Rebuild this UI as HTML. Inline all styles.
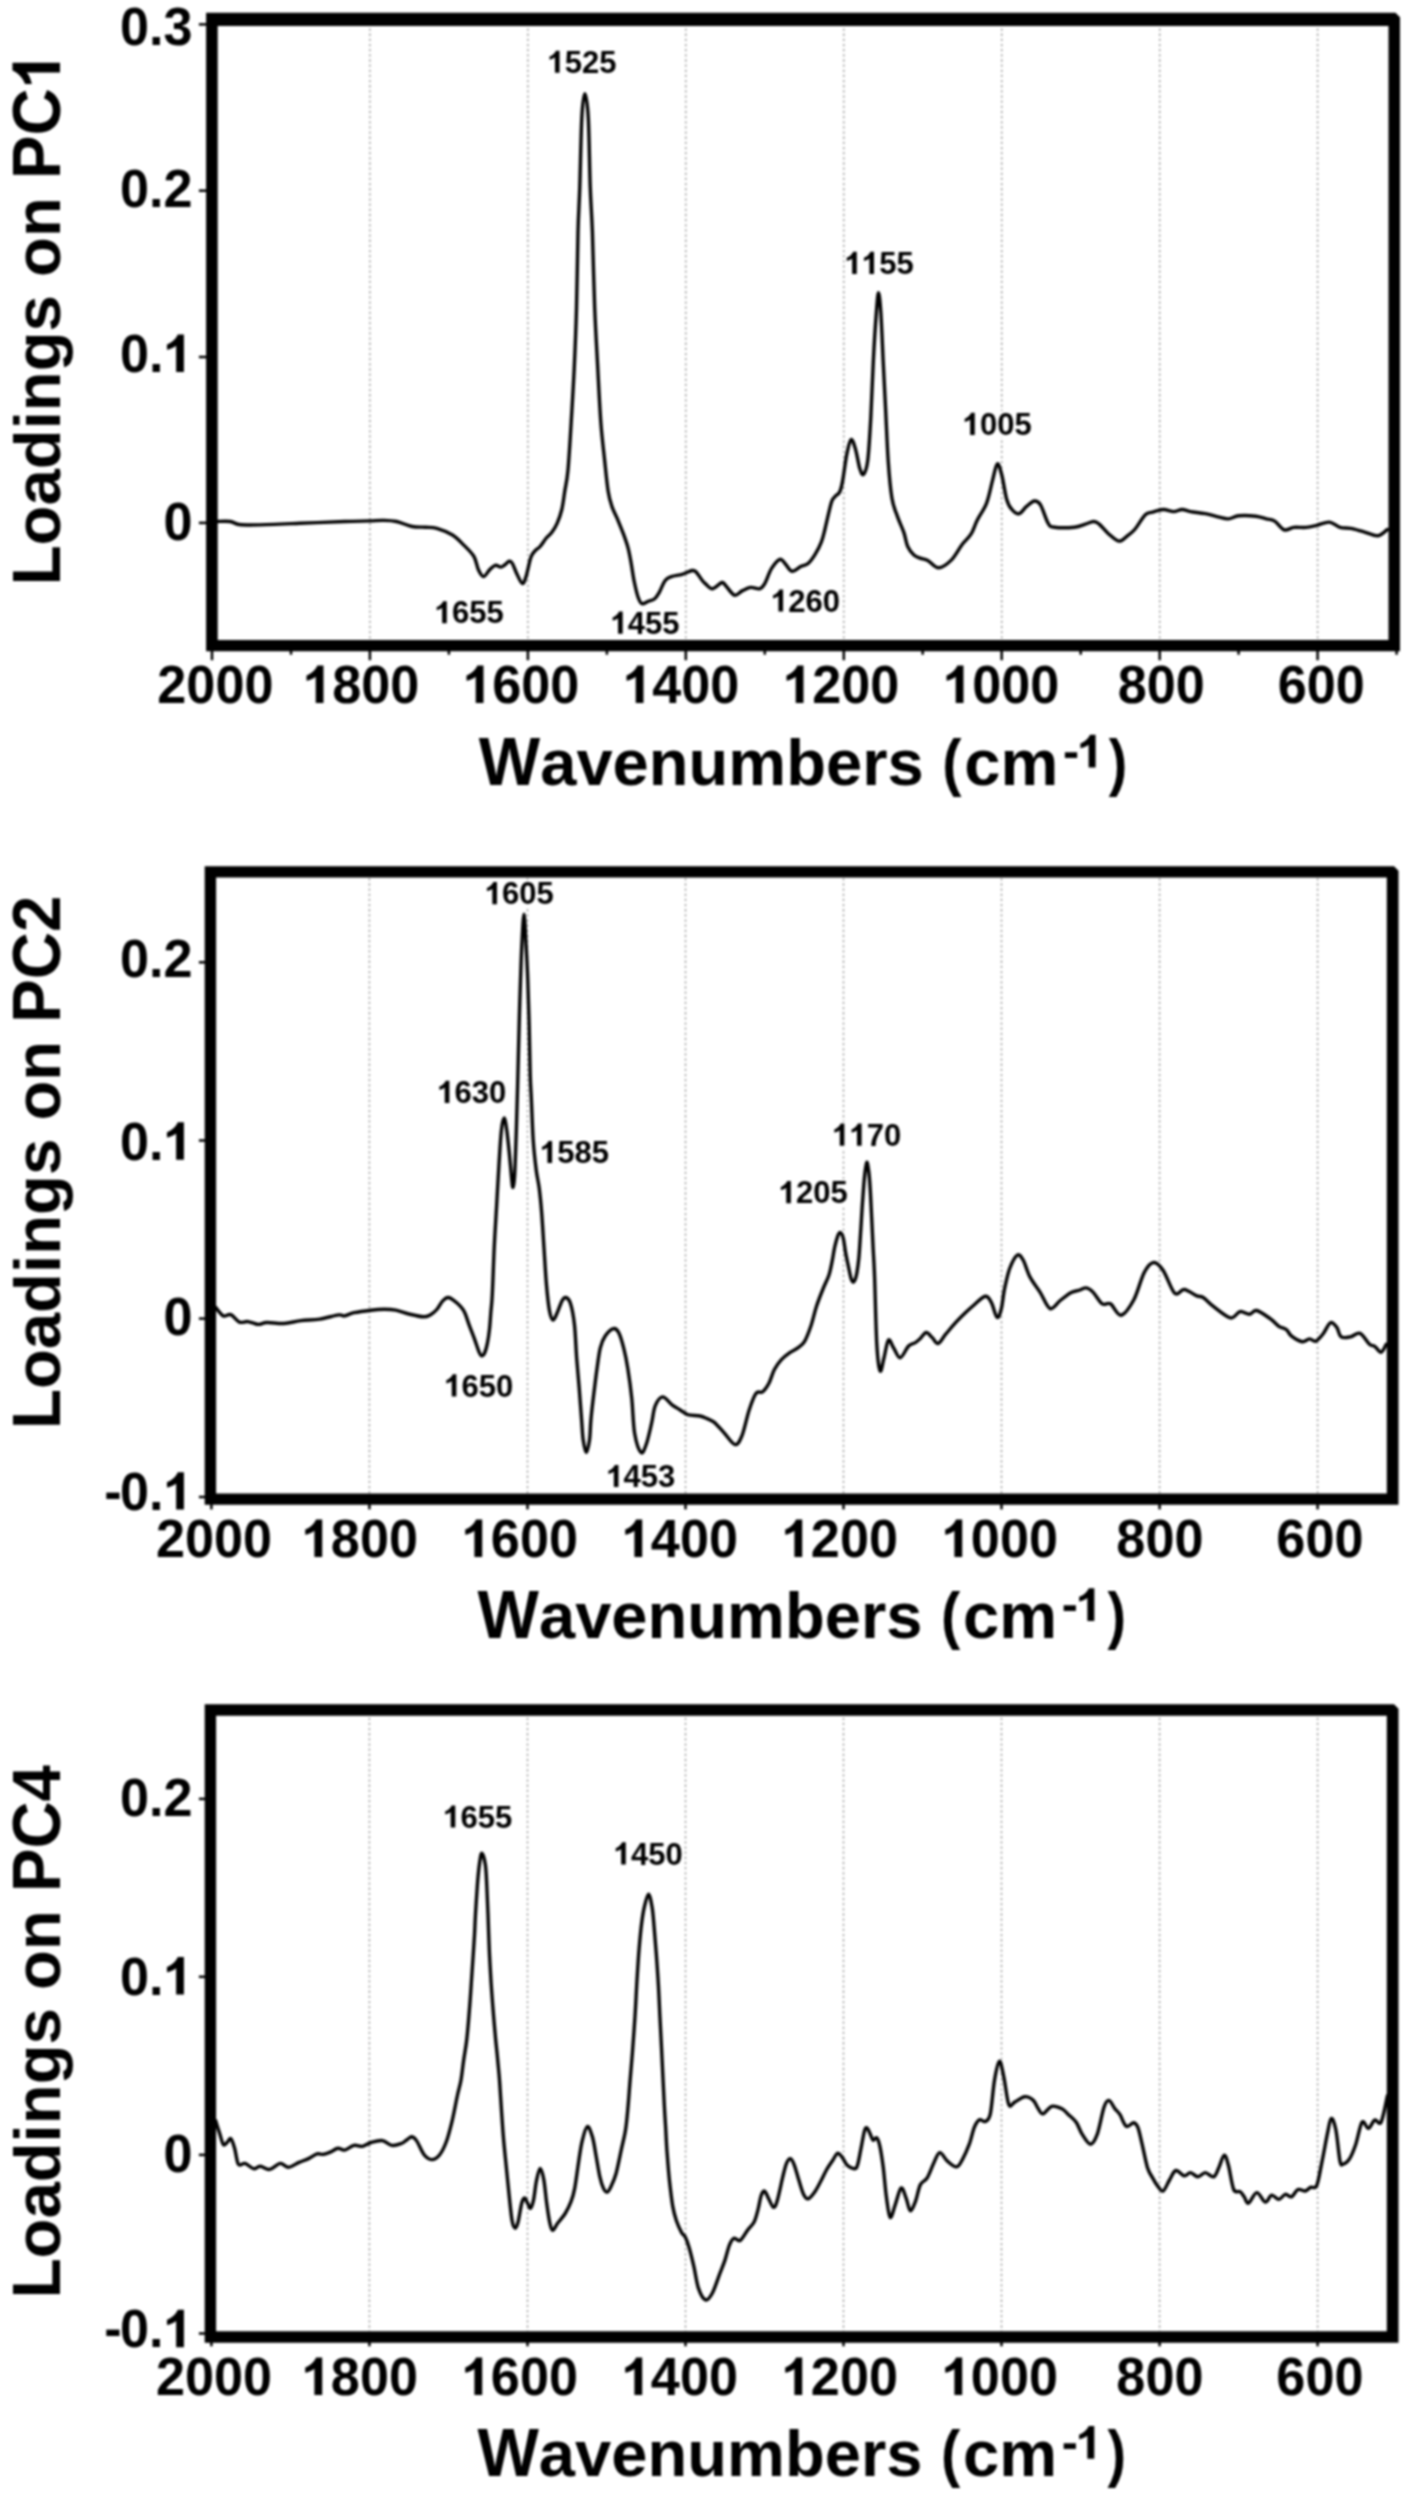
<!DOCTYPE html>
<html><head><meta charset="utf-8"><style>
html,body{margin:0;padding:0;background:#fff;overflow:hidden;}
svg{display:block;will-change:transform;filter:blur(0.8px);}
text{font-family:"Liberation Sans",sans-serif;font-weight:bold;fill:#000;}
</style></head><body>
<svg width="1425" height="2500" viewBox="0 0 1425 2500">
<rect width="1425" height="2500" fill="#fff"/>
<line x1="369.9" y1="26.0" x2="369.9" y2="640.0" stroke="#9c9c9c" stroke-width="1.4" stroke-dasharray="2.3 2.85" stroke-dashoffset="2.70"/>
<line x1="527.9" y1="26.0" x2="527.9" y2="640.0" stroke="#9c9c9c" stroke-width="1.4" stroke-dasharray="2.3 2.85" stroke-dashoffset="2.70"/>
<line x1="685.8" y1="26.0" x2="685.8" y2="640.0" stroke="#9c9c9c" stroke-width="1.4" stroke-dasharray="2.3 2.85" stroke-dashoffset="2.70"/>
<line x1="843.8" y1="26.0" x2="843.8" y2="640.0" stroke="#9c9c9c" stroke-width="1.4" stroke-dasharray="2.3 2.85" stroke-dashoffset="2.70"/>
<line x1="1001.7" y1="26.0" x2="1001.7" y2="640.0" stroke="#9c9c9c" stroke-width="1.4" stroke-dasharray="2.3 2.85" stroke-dashoffset="2.70"/>
<line x1="1159.7" y1="26.0" x2="1159.7" y2="640.0" stroke="#9c9c9c" stroke-width="1.4" stroke-dasharray="2.3 2.85" stroke-dashoffset="2.70"/>
<line x1="1317.6" y1="26.0" x2="1317.6" y2="640.0" stroke="#9c9c9c" stroke-width="1.4" stroke-dasharray="2.3 2.85" stroke-dashoffset="2.70"/>
<path d="M216.7,521.5 C218.9,521.5 226.4,521.0 230.2,521.5 C233.9,522.0 234.7,523.9 239.2,524.5 C243.7,525.1 247.1,525.1 257.2,524.9 C267.3,524.7 285.2,523.9 299.8,523.3 C314.4,522.7 333.1,521.9 344.7,521.5 C356.3,521.1 363.0,521.1 369.4,520.9 C375.8,520.7 378.4,520.3 382.9,520.4 C387.4,520.5 391.5,520.5 396.4,521.5 C401.3,522.5 407.2,525.5 412.1,526.5 C417.0,527.5 421.5,526.9 425.6,527.2 C429.7,527.5 432.3,527.0 436.8,528.3 C441.3,529.6 448.0,532.2 452.5,535.0 C457.0,537.8 460.2,541.5 463.8,545.1 C467.4,548.7 471.5,552.3 473.9,556.4 C476.3,560.5 476.8,566.4 478.4,569.8 C480.0,573.2 481.6,576.6 483.5,576.6 C485.4,576.6 487.7,571.7 489.6,569.8 C491.6,567.9 493.3,565.8 495.2,565.3 C497.1,564.8 499.2,567.1 500.8,567.1 C502.4,567.1 503.2,566.0 504.6,565.0 C506.0,564.0 508.0,561.5 509.3,561.2 C510.6,561.0 511.1,561.3 512.4,563.5 C513.7,565.7 515.3,570.9 517.0,574.3 C518.7,577.6 520.9,583.3 522.4,583.6 C523.9,583.9 524.8,580.3 526.2,575.9 C527.6,571.5 529.4,561.5 530.9,557.3 C532.4,553.0 534.0,552.2 535.5,550.4 C537.0,548.6 538.3,548.6 540.1,546.5 C541.9,544.4 544.4,540.3 546.3,538.0 C548.2,535.7 549.9,535.0 551.7,532.6 C553.5,530.2 555.4,527.2 557.1,523.4 C558.8,519.5 560.5,514.9 561.8,509.5 C563.1,504.1 563.8,497.4 564.8,491.0 C565.8,484.6 566.8,482.4 567.9,470.9 C569.0,459.4 570.2,439.0 571.2,422.0 C572.2,405.0 573.3,387.8 574.2,368.8 C575.1,349.8 575.9,330.8 576.5,308.0 C577.1,285.2 577.5,252.3 578.0,232.0 C578.5,211.7 579.2,205.4 579.8,186.4 C580.4,167.4 581.0,133.4 581.8,118.0 C582.6,102.5 583.7,93.7 584.8,93.7 C585.9,93.7 587.4,102.5 588.3,118.0 C589.2,133.4 589.5,167.4 590.2,186.4 C590.9,205.4 591.6,211.7 592.4,232.0 C593.1,252.3 593.8,285.2 594.7,308.0 C595.6,330.8 596.8,349.8 597.8,368.8 C598.8,387.8 599.7,406.8 600.8,422.0 C601.9,437.2 603.4,448.5 604.6,460.0 C605.8,471.5 606.9,483.3 608.1,491.0 C609.3,498.7 610.4,501.8 611.9,506.4 C613.4,511.0 615.4,514.1 617.3,518.7 C619.2,523.3 621.7,529.3 623.5,534.2 C625.3,539.1 626.8,543.2 628.1,548.1 C629.4,553.0 630.2,557.9 631.2,563.5 C632.2,569.1 633.1,576.3 634.3,582.0 C635.5,587.7 636.9,593.9 638.2,597.5 C639.5,601.1 640.3,603.1 642.0,603.7 C643.7,604.3 646.1,602.1 648.2,601.3 C650.3,600.5 652.6,600.4 654.4,599.0 C656.2,597.6 657.2,596.0 659.0,592.9 C660.8,589.8 663.1,583.2 665.2,580.5 C667.3,577.8 668.6,577.6 671.4,576.6 C674.2,575.6 678.7,575.3 682.2,574.3 C685.7,573.3 689.9,570.9 692.2,570.5 C694.5,570.1 694.4,570.3 696.1,572.0 C697.8,573.7 700.7,578.5 702.3,580.5 C703.9,582.5 703.9,582.5 705.6,583.9 C707.3,585.3 709.9,589.0 712.6,588.8 C715.3,588.6 719.6,583.0 721.8,582.5 C724.0,582.0 723.9,583.9 726.0,586.0 C728.1,588.1 731.7,594.3 734.4,595.1 C737.1,595.9 739.4,592.2 742.1,590.9 C744.8,589.6 747.6,587.8 750.5,587.4 C753.4,587.0 757.2,589.4 759.6,588.8 C762.0,588.2 762.6,587.3 764.6,583.9 C766.6,580.5 769.0,572.5 771.6,568.4 C774.2,564.3 777.7,560.0 780.0,559.3 C782.3,558.6 783.6,562.2 785.6,564.2 C787.6,566.2 789.3,570.9 791.9,571.2 C794.5,571.6 798.4,567.6 801.1,566.3 C803.8,565.0 805.8,565.5 808.1,563.5 C810.4,561.5 812.9,558.0 815.1,554.4 C817.3,550.8 819.8,546.0 821.4,541.8 C823.0,537.6 823.4,535.5 825.0,529.0 C826.6,522.5 829.6,508.4 831.2,503.0 C832.9,497.6 833.5,498.6 834.9,496.7 C836.3,494.8 838.5,494.7 839.8,491.8 C841.1,488.9 841.8,485.6 842.9,479.4 C844.0,473.2 845.4,461.2 846.7,454.6 C848.1,448.0 849.6,440.7 851.0,439.7 C852.4,438.7 853.8,443.6 855.3,448.4 C856.8,453.1 858.4,463.9 859.7,468.2 C861.1,472.5 862.1,475.6 863.4,474.4 C864.7,473.2 866.5,470.3 867.7,460.8 C868.9,451.3 869.9,433.9 870.8,417.4 C871.7,400.9 872.4,379.2 873.3,361.6 C874.2,344.0 875.5,323.5 876.4,312.0 C877.3,300.5 877.8,292.8 878.5,292.8 C879.2,292.8 880.0,300.5 880.8,312.0 C881.6,323.5 882.4,345.1 883.2,361.6 C884.0,378.1 884.9,394.7 885.7,411.2 C886.5,427.7 887.2,446.3 888.2,460.8 C889.2,475.3 890.4,488.7 891.9,498.0 C893.4,507.3 895.5,510.8 897.5,516.6 C899.5,522.4 902.2,527.6 903.9,532.6 C905.6,537.6 906.0,542.8 907.7,546.5 C909.4,550.2 911.8,553.1 913.9,555.0 C916.0,556.9 917.8,557.2 920.1,558.1 C922.4,559.0 924.7,558.8 927.8,560.4 C930.9,562.0 934.7,567.8 938.6,567.8 C942.5,567.8 947.1,564.2 951.0,560.4 C954.9,556.6 958.5,549.4 961.8,545.0 C965.1,540.6 968.4,538.3 971.0,534.2 C973.6,530.1 974.6,525.4 977.2,520.3 C979.8,515.1 983.9,510.0 986.5,503.3 C989.1,496.6 990.8,486.7 992.6,480.1 C994.4,473.5 995.8,464.7 997.3,463.9 C998.8,463.1 1000.4,469.7 1001.9,475.5 C1003.4,481.3 1005.0,493.2 1006.5,498.7 C1008.0,504.2 1009.1,506.2 1011.2,508.7 C1013.3,511.2 1016.3,514.2 1018.9,513.8 C1021.5,513.4 1024.0,508.5 1026.6,506.4 C1029.2,504.3 1032.0,501.3 1034.3,501.0 C1036.6,500.7 1038.2,501.1 1040.5,504.8 C1042.8,508.5 1045.9,519.7 1048.2,523.4 C1050.5,527.1 1050.0,526.6 1054.4,527.2 C1058.8,527.8 1069.3,527.7 1074.5,527.2 C1079.7,526.7 1082.1,525.1 1085.3,524.1 C1088.5,523.1 1091.5,521.5 1093.8,521.5 C1096.1,521.5 1096.8,522.1 1099.2,524.1 C1101.6,526.1 1105.1,530.9 1108.4,533.7 C1111.7,536.5 1115.7,540.8 1118.9,541.1 C1122.1,541.5 1124.8,537.7 1127.4,535.8 C1130.0,533.9 1131.7,533.0 1134.7,529.5 C1137.7,526.0 1142.3,517.6 1145.3,514.7 C1148.3,511.8 1149.6,513.1 1152.6,512.2 C1155.6,511.3 1159.7,509.6 1163.2,509.5 C1166.7,509.4 1170.6,511.6 1173.7,511.6 C1176.8,511.6 1179.3,509.5 1182.1,509.5 C1184.9,509.5 1186.6,510.9 1190.5,511.6 C1194.4,512.3 1200.7,512.8 1205.3,513.7 C1209.9,514.6 1214.1,515.9 1217.9,516.8 C1221.8,517.7 1224.9,519.1 1228.4,518.9 C1231.9,518.7 1234.3,516.2 1238.9,515.8 C1243.5,515.3 1251.2,515.7 1255.8,516.2 C1260.4,516.7 1263.1,518.1 1266.3,518.9 C1269.5,519.7 1271.7,519.3 1274.7,521.1 C1277.7,522.9 1281.0,528.9 1284.2,529.9 C1287.4,530.9 1290.0,527.8 1293.7,527.4 C1297.4,527.0 1302.5,527.8 1306.3,527.4 C1310.1,527.0 1312.9,526.2 1316.8,525.3 C1320.7,524.4 1325.6,521.8 1329.5,522.1 C1333.4,522.5 1336.5,526.4 1340.0,527.4 C1343.5,528.4 1346.6,527.7 1350.5,528.4 C1354.4,529.1 1358.6,530.4 1363.2,531.6 C1367.8,532.8 1373.9,536.1 1377.9,535.8 C1381.9,535.4 1385.8,530.5 1387.4,529.5" fill="none" stroke="#000" stroke-width="3.4" stroke-linejoin="round" stroke-linecap="round"/>
<path d="M206.10,12.80 H1395.50 L1400.00,17.30 V651.20 H206.10 Z M217.70,26.00 V640.00 H1388.50 V26.00 Z" fill="#000" fill-rule="evenodd"/>
<line x1="212.0" y1="649.2" x2="212.0" y2="660.2" stroke="#000" stroke-width="2.5"/>
<line x1="291.0" y1="649.2" x2="291.0" y2="654.7" stroke="#000" stroke-width="2.5"/>
<line x1="369.9" y1="649.2" x2="369.9" y2="660.2" stroke="#000" stroke-width="2.5"/>
<line x1="448.9" y1="649.2" x2="448.9" y2="654.7" stroke="#000" stroke-width="2.5"/>
<line x1="527.9" y1="649.2" x2="527.9" y2="660.2" stroke="#000" stroke-width="2.5"/>
<line x1="606.9" y1="649.2" x2="606.9" y2="654.7" stroke="#000" stroke-width="2.5"/>
<line x1="685.8" y1="649.2" x2="685.8" y2="660.2" stroke="#000" stroke-width="2.5"/>
<line x1="764.8" y1="649.2" x2="764.8" y2="654.7" stroke="#000" stroke-width="2.5"/>
<line x1="843.8" y1="649.2" x2="843.8" y2="660.2" stroke="#000" stroke-width="2.5"/>
<line x1="922.7" y1="649.2" x2="922.7" y2="654.7" stroke="#000" stroke-width="2.5"/>
<line x1="1001.7" y1="649.2" x2="1001.7" y2="660.2" stroke="#000" stroke-width="2.5"/>
<line x1="1080.7" y1="649.2" x2="1080.7" y2="654.7" stroke="#000" stroke-width="2.5"/>
<line x1="1159.7" y1="649.2" x2="1159.7" y2="660.2" stroke="#000" stroke-width="2.5"/>
<line x1="1238.6" y1="649.2" x2="1238.6" y2="654.7" stroke="#000" stroke-width="2.5"/>
<line x1="1317.6" y1="649.2" x2="1317.6" y2="660.2" stroke="#000" stroke-width="2.5"/>
<line x1="1396.6" y1="649.2" x2="1396.6" y2="654.7" stroke="#000" stroke-width="2.5"/>
<line x1="198.9" y1="24.4" x2="208.1" y2="24.4" stroke="#000" stroke-width="2.5"/>
<line x1="198.9" y1="190.7" x2="208.1" y2="190.7" stroke="#000" stroke-width="2.5"/>
<line x1="198.9" y1="357.0" x2="208.1" y2="357.0" stroke="#000" stroke-width="2.5"/>
<line x1="198.9" y1="522.9" x2="208.1" y2="522.9" stroke="#000" stroke-width="2.5"/>
<g transform="translate(157.34,703.00) scale(1.0000,1.0250)"><text x="0.00 29.03 58.06 87.09" y="0" font-size="52.2">2000</text></g>
<g transform="translate(303.14,703.00) scale(1.0000,1.0250)"><text x="29.03 58.06 87.09" y="0" font-size="52.2">800</text><path d="M0.39,0 L0.241,0 L0.241,0.49 C0.19,0.447 0.13,0.428 0.065,0.415 L0.065,0.515 C0.155,0.545 0.235,0.615 0.272,0.70 L0.39,0.70 Z" transform="translate(0.00,0) scale(52.2,-52.2)"/></g>
<g transform="translate(463.14,703.00) scale(1.0000,1.0250)"><text x="29.03 58.06 87.09" y="0" font-size="52.2">600</text><path d="M0.39,0 L0.241,0 L0.241,0.49 C0.19,0.447 0.13,0.428 0.065,0.415 L0.065,0.515 C0.155,0.545 0.235,0.615 0.272,0.70 L0.39,0.70 Z" transform="translate(0.00,0) scale(52.2,-52.2)"/></g>
<g transform="translate(623.14,703.00) scale(1.0000,1.0250)"><text x="29.03 58.06 87.09" y="0" font-size="52.2">400</text><path d="M0.39,0 L0.241,0 L0.241,0.49 C0.19,0.447 0.13,0.428 0.065,0.415 L0.065,0.515 C0.155,0.545 0.235,0.615 0.272,0.70 L0.39,0.70 Z" transform="translate(0.00,0) scale(52.2,-52.2)"/></g>
<g transform="translate(783.14,703.00) scale(1.0000,1.0250)"><text x="29.03 58.06 87.09" y="0" font-size="52.2">200</text><path d="M0.39,0 L0.241,0 L0.241,0.49 C0.19,0.447 0.13,0.428 0.065,0.415 L0.065,0.515 C0.155,0.545 0.235,0.615 0.272,0.70 L0.39,0.70 Z" transform="translate(0.00,0) scale(52.2,-52.2)"/></g>
<g transform="translate(943.14,703.00) scale(1.0000,1.0250)"><text x="29.03 58.06 87.09" y="0" font-size="52.2">000</text><path d="M0.39,0 L0.241,0 L0.241,0.49 C0.19,0.447 0.13,0.428 0.065,0.415 L0.065,0.515 C0.155,0.545 0.235,0.615 0.272,0.70 L0.39,0.70 Z" transform="translate(0.00,0) scale(52.2,-52.2)"/></g>
<g transform="translate(1117.65,703.00) scale(1.0000,1.0250)"><text x="0.00 29.03 58.06" y="0" font-size="52.2">800</text></g>
<g transform="translate(1277.65,703.00) scale(1.0000,1.0250)"><text x="0.00 29.03 58.06" y="0" font-size="52.2">600</text></g>
<g transform="translate(120.03,45.40) scale(1.0000,1.0250)"><text x="0.00 29.03 43.53" y="0" font-size="52.2">0.3</text></g>
<g transform="translate(120.03,207.20) scale(1.0000,1.0250)"><text x="0.00 29.03 43.53" y="0" font-size="52.2">0.2</text></g>
<g transform="translate(120.03,372.00) scale(1.0000,1.0250)"><text x="0.00 29.03" y="0" font-size="52.2">0.</text><path d="M0.39,0 L0.241,0 L0.241,0.49 C0.19,0.447 0.13,0.428 0.065,0.415 L0.065,0.515 C0.155,0.545 0.235,0.615 0.272,0.70 L0.39,0.70 Z" transform="translate(43.53,0) scale(52.2,-52.2)"/></g>
<g transform="translate(163.57,539.80) scale(1.0000,1.0250)"><text x="0.00" y="0" font-size="52.2">0</text></g>
<g transform="translate(478.74,785.00) scale(1.0000,1.0450)"><text x="0.00" y="0" font-size="65.1">W</text><g transform="scale(1,0.945)"><text x="61.44 97.65 133.86 170.06 209.83 249.59 307.48 347.24 383.45 408.78" y="0" font-size="65.1">avenumbers</text></g></g>
<g transform="translate(942.22,783.98) scale(0.8872,0.9789)"><text x="0.00" y="0" font-size="65.1">(</text></g>
<g transform="translate(964.26,785.00) scale(1.0000,1.0450)"><g transform="scale(1,0.945)"><text x="0.00 36.21" y="0" font-size="65.1">cm</text></g></g>
<g transform="translate(1063.11,767.75) scale(1.0600,1.0469)"><text x="0.00" y="0" font-size="45.7">-</text></g>
<g transform="translate(1077.36,767.60) scale(1.0234,1.0253)"><path d="M0.39,0 L0.241,0 L0.241,0.49 C0.19,0.447 0.13,0.428 0.065,0.415 L0.065,0.515 C0.155,0.545 0.235,0.615 0.272,0.70 L0.39,0.70 Z" transform="translate(0.00,0) scale(45.7,-45.7)"/></g>
<g transform="translate(1108.85,783.93) scale(0.8545,0.9673)"><text x="0.00" y="0" font-size="65.1">)</text></g>
<g transform="translate(60.00,585.27) rotate(-90) scale(1.0000,1.0400)"><text x="0.00 406.28 449.83" y="0" font-size="65.3">LPC</text><g transform="scale(1,0.945)"><text x="39.89 79.78 116.09 155.98 174.12 214.01 253.90 308.36 348.25" y="0" font-size="65.3">oadingson</text></g><path d="M0.39,0 L0.241,0 L0.241,0.49 C0.19,0.447 0.13,0.428 0.065,0.415 L0.065,0.515 C0.155,0.545 0.235,0.615 0.272,0.70 L0.39,0.70 Z" transform="translate(496.99,0) scale(65.3,-65.3)"/></g>
<rect x="548.0" y="48.7" width="69.1" height="26.4" fill="#fff"/>
<g transform="translate(547.49,72.80) scale(1.0000,1.0200)"><text x="17.24 34.48 51.72" y="0" font-size="31.0">525</text><path d="M0.39,0 L0.241,0 L0.241,0.49 C0.19,0.447 0.13,0.428 0.065,0.415 L0.065,0.515 C0.155,0.545 0.235,0.615 0.272,0.70 L0.39,0.70 Z" transform="translate(0.00,0) scale(31.0,-31.0)"/></g>
<rect x="845.2" y="249.9" width="69.1" height="26.4" fill="#fff"/>
<g transform="translate(844.69,274.00) scale(1.0000,1.0200)"><text x="34.48 51.72" y="0" font-size="31.0">55</text><path d="M0.39,0 L0.241,0 L0.241,0.49 C0.19,0.447 0.13,0.428 0.065,0.415 L0.065,0.515 C0.155,0.545 0.235,0.615 0.272,0.70 L0.39,0.70 Z" transform="translate(0.00,0) scale(31.0,-31.0)"/><path d="M0.39,0 L0.241,0 L0.241,0.49 C0.19,0.447 0.13,0.428 0.065,0.415 L0.065,0.515 C0.155,0.545 0.235,0.615 0.272,0.70 L0.39,0.70 Z" transform="translate(17.24,0) scale(31.0,-31.0)"/></g>
<rect x="963.2" y="410.9" width="69.1" height="26.4" fill="#fff"/>
<g transform="translate(962.69,435.00) scale(1.0000,1.0200)"><text x="17.24 34.48 51.72" y="0" font-size="31.0">005</text><path d="M0.39,0 L0.241,0 L0.241,0.49 C0.19,0.447 0.13,0.428 0.065,0.415 L0.065,0.515 C0.155,0.545 0.235,0.615 0.272,0.70 L0.39,0.70 Z" transform="translate(0.00,0) scale(31.0,-31.0)"/></g>
<rect x="435.2" y="599.2" width="69.1" height="26.4" fill="#fff"/>
<g transform="translate(434.69,623.30) scale(1.0000,1.0200)"><text x="17.24 34.48 51.72" y="0" font-size="31.0">655</text><path d="M0.39,0 L0.241,0 L0.241,0.49 C0.19,0.447 0.13,0.428 0.065,0.415 L0.065,0.515 C0.155,0.545 0.235,0.615 0.272,0.70 L0.39,0.70 Z" transform="translate(0.00,0) scale(31.0,-31.0)"/></g>
<rect x="611.1" y="609.6" width="69.1" height="26.4" fill="#fff"/>
<g transform="translate(610.59,633.70) scale(1.0000,1.0200)"><text x="17.24 34.48 51.72" y="0" font-size="31.0">455</text><path d="M0.39,0 L0.241,0 L0.241,0.49 C0.19,0.447 0.13,0.428 0.065,0.415 L0.065,0.515 C0.155,0.545 0.235,0.615 0.272,0.70 L0.39,0.70 Z" transform="translate(0.00,0) scale(31.0,-31.0)"/></g>
<rect x="771.5" y="587.5" width="68.7" height="26.4" fill="#fff"/>
<g transform="translate(770.99,611.60) scale(1.0000,1.0200)"><text x="17.24 34.48 51.72" y="0" font-size="31.0">260</text><path d="M0.39,0 L0.241,0 L0.241,0.49 C0.19,0.447 0.13,0.428 0.065,0.415 L0.065,0.515 C0.155,0.545 0.235,0.615 0.272,0.70 L0.39,0.70 Z" transform="translate(0.00,0) scale(31.0,-31.0)"/></g>
<line x1="369.4" y1="877.5" x2="369.4" y2="1493.5" stroke="#9c9c9c" stroke-width="1.4" stroke-dasharray="2.3 2.85" stroke-dashoffset="4.45"/>
<line x1="527.5" y1="877.5" x2="527.5" y2="1493.5" stroke="#9c9c9c" stroke-width="1.4" stroke-dasharray="2.3 2.85" stroke-dashoffset="4.45"/>
<line x1="685.5" y1="877.5" x2="685.5" y2="1493.5" stroke="#9c9c9c" stroke-width="1.4" stroke-dasharray="2.3 2.85" stroke-dashoffset="4.45"/>
<line x1="843.5" y1="877.5" x2="843.5" y2="1493.5" stroke="#9c9c9c" stroke-width="1.4" stroke-dasharray="2.3 2.85" stroke-dashoffset="4.45"/>
<line x1="1001.5" y1="877.5" x2="1001.5" y2="1493.5" stroke="#9c9c9c" stroke-width="1.4" stroke-dasharray="2.3 2.85" stroke-dashoffset="4.45"/>
<line x1="1159.6" y1="877.5" x2="1159.6" y2="1493.5" stroke="#9c9c9c" stroke-width="1.4" stroke-dasharray="2.3 2.85" stroke-dashoffset="4.45"/>
<line x1="1317.6" y1="877.5" x2="1317.6" y2="1493.5" stroke="#9c9c9c" stroke-width="1.4" stroke-dasharray="2.3 2.85" stroke-dashoffset="4.45"/>
<path d="M215.7,1307.4 C217.0,1308.8 220.8,1314.7 223.3,1315.9 C225.8,1317.1 228.1,1313.6 230.8,1314.6 C233.5,1315.6 236.6,1320.9 239.4,1322.1 C242.2,1323.3 244.8,1321.2 247.9,1321.6 C251.1,1322.0 255.2,1324.2 258.3,1324.4 C261.4,1324.6 262.5,1322.7 266.8,1322.5 C271.1,1322.3 278.2,1323.8 283.9,1323.5 C289.6,1323.2 294.9,1321.3 300.9,1320.6 C306.9,1319.9 313.6,1320.0 319.9,1319.1 C326.2,1318.1 334.7,1315.4 338.8,1314.9 C342.9,1314.4 342.0,1316.3 344.5,1315.9 C347.0,1315.5 349.6,1313.7 354.0,1312.7 C358.4,1311.8 365.9,1310.8 371.0,1310.2 C376.1,1309.6 380.2,1309.3 384.3,1309.3 C388.4,1309.3 391.6,1309.4 395.7,1310.2 C399.8,1311.0 404.3,1312.9 408.9,1314.0 C413.5,1315.1 419.9,1316.7 423.5,1316.8 C427.1,1316.9 428.3,1315.9 430.5,1314.7 C432.7,1313.5 434.8,1311.8 436.8,1309.5 C438.8,1307.2 440.6,1303.1 442.5,1301.1 C444.4,1299.1 446.2,1297.6 448.1,1297.5 C450.0,1297.4 451.6,1298.9 453.7,1300.4 C455.8,1301.9 458.8,1304.6 460.7,1306.7 C462.6,1308.8 463.5,1310.0 464.9,1313.0 C466.3,1316.0 467.5,1320.5 469.1,1324.9 C470.7,1329.3 473.1,1335.1 474.7,1339.6 C476.3,1344.0 477.8,1348.9 478.9,1351.6 C480.0,1354.3 480.4,1355.6 481.4,1355.8 C482.3,1356.0 483.6,1355.1 484.6,1353.0 C485.6,1350.9 486.6,1347.2 487.4,1343.2 C488.2,1339.2 488.9,1334.4 489.5,1329.1 C490.1,1323.8 490.4,1317.4 490.9,1311.6 C491.4,1305.8 491.8,1304.6 492.3,1294.0 C492.9,1283.4 493.5,1262.7 494.2,1248.0 C494.9,1233.3 495.8,1220.0 496.6,1206.0 C497.4,1192.0 498.2,1176.6 499.0,1164.0 C499.8,1151.4 500.5,1138.1 501.4,1130.4 C502.2,1122.7 503.2,1117.9 504.1,1117.9 C505.0,1117.9 506.0,1124.7 506.8,1130.4 C507.6,1136.1 508.4,1144.0 509.2,1152.0 C510.0,1160.0 511.0,1172.5 511.6,1178.4 C512.2,1184.3 512.5,1187.8 513.0,1187.4 C513.5,1187.0 514.0,1185.9 514.6,1176.0 C515.2,1166.1 515.9,1143.0 516.4,1128.0 C516.9,1113.0 517.2,1099.0 517.6,1086.0 C518.0,1073.0 518.2,1061.8 518.5,1050.0 C518.8,1038.2 519.1,1026.6 519.4,1015.0 C519.7,1003.4 520.1,992.3 520.5,980.4 C520.9,968.5 521.3,954.6 521.9,943.6 C522.5,932.6 523.3,914.2 524.0,914.2 C524.7,914.2 525.4,932.6 526.0,943.6 C526.6,954.6 527.3,966.6 527.8,980.4 C528.3,994.2 528.8,1010.6 529.2,1026.4 C529.6,1042.2 529.8,1062.7 530.2,1075.0 C530.6,1087.3 530.9,1089.2 531.4,1100.0 C531.9,1110.8 532.4,1128.3 533.2,1140.0 C534.0,1151.7 535.2,1162.0 536.2,1170.0 C537.2,1178.0 538.3,1181.0 539.2,1188.0 C540.1,1195.0 540.8,1202.0 541.6,1212.0 C542.4,1222.0 543.2,1236.0 544.0,1248.0 C544.8,1260.0 545.5,1273.6 546.4,1284.0 C547.3,1294.4 548.3,1304.4 549.4,1310.4 C550.5,1316.4 551.7,1319.6 553.0,1320.0 C554.3,1320.4 555.7,1316.0 557.2,1312.8 C558.7,1309.6 560.6,1303.3 562.0,1300.8 C563.4,1298.2 564.4,1297.1 565.8,1297.5 C567.2,1297.9 568.9,1298.6 570.4,1303.2 C571.9,1307.8 573.5,1315.8 574.5,1325.0 C575.5,1334.2 575.9,1348.1 576.7,1358.6 C577.5,1369.1 578.4,1377.9 579.2,1388.1 C580.0,1398.3 580.9,1411.3 581.6,1420.0 C582.3,1428.7 582.4,1434.6 583.2,1440.0 C584.0,1445.4 585.2,1452.6 586.3,1452.6 C587.3,1452.6 588.7,1445.4 589.5,1440.0 C590.3,1434.6 590.2,1427.8 590.9,1420.0 C591.6,1412.2 592.8,1401.9 593.9,1393.0 C595.0,1384.1 596.2,1373.9 597.3,1366.4 C598.4,1358.9 599.0,1352.9 600.3,1347.8 C601.6,1342.7 603.0,1339.2 605.2,1336.0 C607.4,1332.8 611.2,1329.1 613.5,1328.6 C615.8,1328.1 617.2,1329.6 618.9,1333.0 C620.6,1336.4 622.4,1342.9 623.9,1348.8 C625.4,1354.7 626.5,1360.2 627.8,1368.4 C629.1,1376.6 630.6,1387.0 631.7,1397.9 C632.9,1408.8 633.1,1424.6 634.7,1433.7 C636.3,1442.8 639.2,1450.8 641.1,1452.6 C643.0,1454.3 644.5,1449.1 646.3,1444.2 C648.0,1439.3 650.1,1429.6 651.6,1423.2 C653.1,1416.8 653.4,1410.1 655.3,1405.7 C657.1,1401.3 659.9,1397.1 662.7,1396.9 C665.5,1396.8 669.1,1402.7 672.0,1404.8 C674.9,1406.9 677.2,1408.1 679.8,1409.7 C682.4,1411.3 684.3,1413.5 687.7,1414.6 C691.1,1415.6 696.8,1415.3 700.0,1416.0 C703.2,1416.7 704.7,1417.6 707.0,1418.6 C709.3,1419.6 711.2,1419.8 714.0,1422.1 C716.8,1424.4 720.4,1428.8 723.9,1432.6 C727.4,1436.3 732.1,1444.1 735.1,1444.6 C738.1,1445.1 739.8,1441.1 742.1,1435.4 C744.4,1429.7 746.8,1417.2 749.1,1410.2 C751.4,1403.2 753.9,1396.3 756.1,1393.3 C758.3,1390.2 760.4,1393.5 762.5,1391.9 C764.6,1390.3 766.8,1387.2 768.8,1383.5 C770.8,1379.8 772.3,1373.5 774.4,1369.5 C776.5,1365.5 778.8,1362.4 781.4,1359.6 C784.0,1356.8 787.0,1354.6 789.8,1352.6 C792.6,1350.6 795.7,1349.6 798.2,1347.7 C800.7,1345.8 802.5,1345.0 804.6,1341.4 C806.7,1337.8 808.9,1331.8 810.9,1326.0 C812.9,1320.2 814.5,1312.5 816.5,1306.3 C818.5,1300.1 820.9,1294.2 823.0,1289.0 C825.1,1283.8 827.4,1279.6 828.9,1275.2 C830.4,1270.8 830.9,1267.2 831.9,1262.4 C832.9,1257.7 833.8,1251.1 834.8,1246.7 C835.8,1242.3 836.9,1238.3 837.8,1235.9 C838.7,1233.5 839.3,1232.2 840.2,1232.5 C841.1,1232.8 842.3,1234.6 843.2,1237.9 C844.1,1241.2 844.7,1247.7 845.6,1252.6 C846.5,1257.5 847.7,1263.1 848.6,1267.4 C849.5,1271.7 850.2,1275.8 851.0,1278.2 C851.8,1280.7 852.6,1282.6 853.5,1282.1 C854.4,1281.6 855.5,1279.3 856.4,1275.2 C857.3,1271.1 858.1,1265.3 858.9,1257.5 C859.6,1249.7 860.2,1237.9 860.9,1228.1 C861.5,1218.3 862.1,1207.6 862.8,1198.6 C863.4,1189.6 864.1,1180.1 864.8,1174.0 C865.5,1167.9 866.1,1162.7 866.8,1162.2 C867.4,1161.7 868.1,1166.7 868.7,1171.1 C869.3,1175.5 869.7,1180.9 870.2,1188.8 C870.7,1196.7 871.2,1208.4 871.7,1218.2 C872.2,1228.0 872.6,1237.9 873.1,1247.7 C873.6,1257.5 874.0,1261.1 874.6,1277.2 C875.2,1293.3 875.9,1328.6 876.8,1344.2 C877.7,1359.8 878.9,1368.6 880.1,1370.9 C881.3,1373.2 882.5,1363.3 883.9,1358.2 C885.3,1353.1 886.8,1341.8 888.4,1340.1 C890.0,1338.3 891.5,1344.8 893.5,1347.7 C895.5,1350.7 897.7,1358.1 900.2,1357.8 C902.7,1357.5 906.1,1348.5 908.6,1346.0 C911.1,1343.5 913.4,1343.9 915.4,1342.6 C917.4,1341.3 918.6,1340.1 920.4,1338.4 C922.2,1336.7 924.3,1332.6 926.3,1332.5 C928.3,1332.4 930.2,1335.8 932.2,1337.6 C934.2,1339.4 935.9,1344.1 938.1,1343.5 C940.4,1342.9 942.8,1337.7 945.7,1334.2 C948.7,1330.7 952.4,1326.1 955.8,1322.4 C959.2,1318.8 962.8,1315.2 965.9,1312.3 C969.0,1309.3 971.1,1307.4 974.3,1304.7 C977.5,1302.0 982.5,1296.7 985.3,1296.3 C988.1,1295.9 989.2,1298.7 991.2,1302.2 C993.2,1305.7 995.4,1316.3 997.1,1317.4 C998.8,1318.5 1000.0,1313.7 1001.3,1308.9 C1002.5,1304.1 1003.2,1295.4 1004.6,1288.7 C1006.0,1282.0 1007.6,1274.1 1009.7,1268.5 C1011.8,1262.9 1015.0,1256.5 1017.3,1255.1 C1019.5,1253.7 1021.1,1256.5 1023.2,1260.1 C1025.3,1263.7 1027.1,1271.6 1029.9,1276.9 C1032.7,1282.2 1036.6,1286.8 1040.0,1292.1 C1043.4,1297.4 1046.7,1307.2 1050.1,1308.6 C1053.5,1310.0 1056.8,1303.1 1060.2,1300.5 C1063.6,1297.9 1067.2,1294.6 1070.3,1292.9 C1073.4,1291.2 1076.0,1291.2 1078.7,1290.4 C1081.4,1289.6 1083.9,1287.6 1086.3,1287.9 C1088.7,1288.2 1090.3,1289.4 1093.0,1292.1 C1095.7,1294.8 1099.4,1302.0 1102.3,1303.9 C1105.2,1305.9 1107.4,1301.9 1110.5,1303.8 C1113.6,1305.7 1117.2,1315.8 1121.1,1315.2 C1125.0,1314.6 1129.8,1307.1 1133.7,1300.0 C1137.6,1292.9 1140.9,1278.8 1144.2,1272.6 C1147.5,1266.3 1150.5,1262.8 1153.7,1262.5 C1156.9,1262.2 1159.7,1265.4 1163.2,1270.5 C1166.7,1275.6 1171.2,1290.1 1174.7,1293.3 C1178.2,1296.5 1180.5,1289.1 1184.2,1289.5 C1187.9,1289.9 1193.6,1294.5 1196.8,1295.8 C1200.0,1297.1 1200.4,1295.7 1203.2,1297.5 C1206.0,1299.3 1209.2,1303.3 1213.7,1306.7 C1218.2,1310.1 1226.1,1317.1 1230.5,1317.9 C1234.9,1318.7 1236.8,1312.2 1240.0,1311.6 C1243.2,1311.0 1246.7,1314.5 1249.5,1314.3 C1252.3,1314.1 1253.3,1309.7 1256.8,1310.5 C1260.3,1311.3 1266.8,1316.3 1270.5,1318.9 C1274.2,1321.5 1276.3,1324.5 1278.9,1326.3 C1281.5,1328.1 1284.2,1327.8 1286.3,1329.5 C1288.4,1331.2 1289.0,1334.2 1291.6,1336.2 C1294.2,1338.2 1299.1,1341.2 1302.1,1341.7 C1305.1,1342.2 1307.2,1339.0 1309.5,1338.9 C1311.8,1338.8 1313.5,1342.0 1315.8,1341.1 C1318.1,1340.2 1320.8,1336.8 1323.2,1333.7 C1325.7,1330.6 1328.2,1323.8 1330.5,1322.7 C1332.8,1321.7 1335.0,1325.1 1336.8,1327.4 C1338.6,1329.8 1338.8,1335.2 1341.1,1336.8 C1343.4,1338.4 1347.3,1337.4 1350.5,1336.8 C1353.7,1336.2 1356.8,1332.1 1360.0,1333.3 C1363.2,1334.5 1367.0,1342.0 1369.5,1344.2 C1372.0,1346.4 1372.8,1345.0 1374.7,1346.3 C1376.6,1347.6 1379.2,1352.5 1381.1,1352.2 C1383.0,1351.9 1385.4,1345.5 1386.3,1344.2" fill="none" stroke="#000" stroke-width="3.4" stroke-linejoin="round" stroke-linecap="round"/>
<path d="M204.70,866.20 H1394.00 L1398.50,870.70 V1504.80 H204.70 Z M216.10,877.50 V1493.50 H1386.80 V877.50 Z" fill="#000" fill-rule="evenodd"/>
<line x1="211.4" y1="1502.8" x2="211.4" y2="1509.4" stroke="#000" stroke-width="2.5"/>
<line x1="369.4" y1="1502.8" x2="369.4" y2="1509.4" stroke="#000" stroke-width="2.5"/>
<line x1="527.5" y1="1502.8" x2="527.5" y2="1509.4" stroke="#000" stroke-width="2.5"/>
<line x1="685.5" y1="1502.8" x2="685.5" y2="1509.4" stroke="#000" stroke-width="2.5"/>
<line x1="843.5" y1="1502.8" x2="843.5" y2="1509.4" stroke="#000" stroke-width="2.5"/>
<line x1="1001.5" y1="1502.8" x2="1001.5" y2="1509.4" stroke="#000" stroke-width="2.5"/>
<line x1="1159.6" y1="1502.8" x2="1159.6" y2="1509.4" stroke="#000" stroke-width="2.5"/>
<line x1="1317.6" y1="1502.8" x2="1317.6" y2="1509.4" stroke="#000" stroke-width="2.5"/>
<line x1="198.9" y1="962.3" x2="206.7" y2="962.3" stroke="#000" stroke-width="2.5"/>
<line x1="198.9" y1="1140.5" x2="206.7" y2="1140.5" stroke="#000" stroke-width="2.5"/>
<line x1="198.9" y1="1318.6" x2="206.7" y2="1318.6" stroke="#000" stroke-width="2.5"/>
<line x1="198.9" y1="1497.0" x2="206.7" y2="1497.0" stroke="#000" stroke-width="2.5"/>
<g transform="translate(156.04,1557.00) scale(1.0000,1.0250)"><text x="0.00 29.03 58.06 87.09" y="0" font-size="52.2">2000</text></g>
<g transform="translate(301.84,1557.00) scale(1.0000,1.0250)"><text x="29.03 58.06 87.09" y="0" font-size="52.2">800</text><path d="M0.39,0 L0.241,0 L0.241,0.49 C0.19,0.447 0.13,0.428 0.065,0.415 L0.065,0.515 C0.155,0.545 0.235,0.615 0.272,0.70 L0.39,0.70 Z" transform="translate(0.00,0) scale(52.2,-52.2)"/></g>
<g transform="translate(461.84,1557.00) scale(1.0000,1.0250)"><text x="29.03 58.06 87.09" y="0" font-size="52.2">600</text><path d="M0.39,0 L0.241,0 L0.241,0.49 C0.19,0.447 0.13,0.428 0.065,0.415 L0.065,0.515 C0.155,0.545 0.235,0.615 0.272,0.70 L0.39,0.70 Z" transform="translate(0.00,0) scale(52.2,-52.2)"/></g>
<g transform="translate(621.84,1557.00) scale(1.0000,1.0250)"><text x="29.03 58.06 87.09" y="0" font-size="52.2">400</text><path d="M0.39,0 L0.241,0 L0.241,0.49 C0.19,0.447 0.13,0.428 0.065,0.415 L0.065,0.515 C0.155,0.545 0.235,0.615 0.272,0.70 L0.39,0.70 Z" transform="translate(0.00,0) scale(52.2,-52.2)"/></g>
<g transform="translate(781.84,1557.00) scale(1.0000,1.0250)"><text x="29.03 58.06 87.09" y="0" font-size="52.2">200</text><path d="M0.39,0 L0.241,0 L0.241,0.49 C0.19,0.447 0.13,0.428 0.065,0.415 L0.065,0.515 C0.155,0.545 0.235,0.615 0.272,0.70 L0.39,0.70 Z" transform="translate(0.00,0) scale(52.2,-52.2)"/></g>
<g transform="translate(941.84,1557.00) scale(1.0000,1.0250)"><text x="29.03 58.06 87.09" y="0" font-size="52.2">000</text><path d="M0.39,0 L0.241,0 L0.241,0.49 C0.19,0.447 0.13,0.428 0.065,0.415 L0.065,0.515 C0.155,0.545 0.235,0.615 0.272,0.70 L0.39,0.70 Z" transform="translate(0.00,0) scale(52.2,-52.2)"/></g>
<g transform="translate(1116.35,1557.00) scale(1.0000,1.0250)"><text x="0.00 29.03 58.06" y="0" font-size="52.2">800</text></g>
<g transform="translate(1276.35,1557.00) scale(1.0000,1.0250)"><text x="0.00 29.03 58.06" y="0" font-size="52.2">600</text></g>
<g transform="translate(120.03,977.40) scale(1.0000,1.0250)"><text x="0.00 29.03 43.53" y="0" font-size="52.2">0.2</text></g>
<g transform="translate(120.03,1159.80) scale(1.0000,1.0250)"><text x="0.00 29.03" y="0" font-size="52.2">0.</text><path d="M0.39,0 L0.241,0 L0.241,0.49 C0.19,0.447 0.13,0.428 0.065,0.415 L0.065,0.515 C0.155,0.545 0.235,0.615 0.272,0.70 L0.39,0.70 Z" transform="translate(43.53,0) scale(52.2,-52.2)"/></g>
<g transform="translate(163.57,1335.40) scale(1.0000,1.0250)"><text x="0.00" y="0" font-size="52.2">0</text></g>
<g transform="translate(104.22,1509.60) scale(1.0000,1.0250)"><text x="0.00 15.82 44.85" y="0" font-size="52.2">-0.</text><path d="M0.39,0 L0.241,0 L0.241,0.49 C0.19,0.447 0.13,0.428 0.065,0.415 L0.065,0.515 C0.155,0.545 0.235,0.615 0.272,0.70 L0.39,0.70 Z" transform="translate(59.35,0) scale(52.2,-52.2)"/></g>
<g transform="translate(477.49,1638.40) scale(1.0000,1.0450)"><text x="0.00" y="0" font-size="65.1">W</text><g transform="scale(1,0.945)"><text x="61.44 97.65 133.86 170.06 209.83 249.59 307.48 347.24 383.45 408.78" y="0" font-size="65.1">avenumbers</text></g></g>
<g transform="translate(940.97,1637.38) scale(0.8872,0.9789)"><text x="0.00" y="0" font-size="65.1">(</text></g>
<g transform="translate(963.01,1638.40) scale(1.0000,1.0450)"><g transform="scale(1,0.945)"><text x="0.00 36.21" y="0" font-size="65.1">cm</text></g></g>
<g transform="translate(1061.86,1621.15) scale(1.0600,1.0469)"><text x="0.00" y="0" font-size="45.7">-</text></g>
<g transform="translate(1076.11,1621.00) scale(1.0234,1.0253)"><path d="M0.39,0 L0.241,0 L0.241,0.49 C0.19,0.447 0.13,0.428 0.065,0.415 L0.065,0.515 C0.155,0.545 0.235,0.615 0.272,0.70 L0.39,0.70 Z" transform="translate(0.00,0) scale(45.7,-45.7)"/></g>
<g transform="translate(1107.60,1637.33) scale(0.8545,0.9673)"><text x="0.00" y="0" font-size="65.1">)</text></g>
<g transform="translate(60.00,1428.97) rotate(-90) scale(1.0000,1.0400)"><text x="0.00 406.28 449.83 496.99" y="0" font-size="65.3">LPC2</text><g transform="scale(1,0.945)"><text x="39.89 79.78 116.09 155.98 174.12 214.01 253.90 308.36 348.25" y="0" font-size="65.3">oadingson</text></g></g>
<rect x="485.4" y="880.1" width="69.1" height="26.4" fill="#fff"/>
<g transform="translate(484.88,904.20) scale(1.0000,1.0200)"><text x="17.24 34.48 51.72" y="0" font-size="31.0">605</text><path d="M0.39,0 L0.241,0 L0.241,0.49 C0.19,0.447 0.13,0.428 0.065,0.415 L0.065,0.515 C0.155,0.545 0.235,0.615 0.272,0.70 L0.39,0.70 Z" transform="translate(0.00,0) scale(31.0,-31.0)"/></g>
<rect x="437.8" y="1078.8" width="68.7" height="26.5" fill="#fff"/>
<g transform="translate(437.29,1102.90) scale(1.0000,1.0200)"><text x="17.24 34.48 51.72" y="0" font-size="31.0">630</text><path d="M0.39,0 L0.241,0 L0.241,0.49 C0.19,0.447 0.13,0.428 0.065,0.415 L0.065,0.515 C0.155,0.545 0.235,0.615 0.272,0.70 L0.39,0.70 Z" transform="translate(0.00,0) scale(31.0,-31.0)"/></g>
<rect x="540.5" y="1139.0" width="69.1" height="26.4" fill="#fff"/>
<g transform="translate(539.99,1163.10) scale(1.0000,1.0200)"><text x="17.24 34.48 51.72" y="0" font-size="31.0">585</text><path d="M0.39,0 L0.241,0 L0.241,0.49 C0.19,0.447 0.13,0.428 0.065,0.415 L0.065,0.515 C0.155,0.545 0.235,0.615 0.272,0.70 L0.39,0.70 Z" transform="translate(0.00,0) scale(31.0,-31.0)"/></g>
<rect x="444.8" y="1372.4" width="68.7" height="26.4" fill="#fff"/>
<g transform="translate(444.29,1396.50) scale(1.0000,1.0200)"><text x="17.24 34.48 51.72" y="0" font-size="31.0">650</text><path d="M0.39,0 L0.241,0 L0.241,0.49 C0.19,0.447 0.13,0.428 0.065,0.415 L0.065,0.515 C0.155,0.545 0.235,0.615 0.272,0.70 L0.39,0.70 Z" transform="translate(0.00,0) scale(31.0,-31.0)"/></g>
<rect x="606.9" y="1463.0" width="68.8" height="26.5" fill="#fff"/>
<g transform="translate(606.38,1487.10) scale(1.0000,1.0200)"><text x="17.24 34.48 51.72" y="0" font-size="31.0">453</text><path d="M0.39,0 L0.241,0 L0.241,0.49 C0.19,0.447 0.13,0.428 0.065,0.415 L0.065,0.515 C0.155,0.545 0.235,0.615 0.272,0.70 L0.39,0.70 Z" transform="translate(0.00,0) scale(31.0,-31.0)"/></g>
<rect x="779.3" y="1179.1" width="69.1" height="26.4" fill="#fff"/>
<g transform="translate(778.78,1203.20) scale(1.0000,1.0200)"><text x="17.24 34.48 51.72" y="0" font-size="31.0">205</text><path d="M0.39,0 L0.241,0 L0.241,0.49 C0.19,0.447 0.13,0.428 0.065,0.415 L0.065,0.515 C0.155,0.545 0.235,0.615 0.272,0.70 L0.39,0.70 Z" transform="translate(0.00,0) scale(31.0,-31.0)"/></g>
<rect x="832.8" y="1121.6" width="68.7" height="26.4" fill="#fff"/>
<g transform="translate(832.28,1145.70) scale(1.0000,1.0200)"><text x="34.48 51.72" y="0" font-size="31.0">70</text><path d="M0.39,0 L0.241,0 L0.241,0.49 C0.19,0.447 0.13,0.428 0.065,0.415 L0.065,0.515 C0.155,0.545 0.235,0.615 0.272,0.70 L0.39,0.70 Z" transform="translate(0.00,0) scale(31.0,-31.0)"/><path d="M0.39,0 L0.241,0 L0.241,0.49 C0.19,0.447 0.13,0.428 0.065,0.415 L0.065,0.515 C0.155,0.545 0.235,0.615 0.272,0.70 L0.39,0.70 Z" transform="translate(17.24,0) scale(31.0,-31.0)"/></g>
<line x1="369.4" y1="1715.7" x2="369.4" y2="2331.2" stroke="#9c9c9c" stroke-width="1.4" stroke-dasharray="2.3 2.85" stroke-dashoffset="3.20"/>
<line x1="527.5" y1="1715.7" x2="527.5" y2="2331.2" stroke="#9c9c9c" stroke-width="1.4" stroke-dasharray="2.3 2.85" stroke-dashoffset="3.20"/>
<line x1="685.5" y1="1715.7" x2="685.5" y2="2331.2" stroke="#9c9c9c" stroke-width="1.4" stroke-dasharray="2.3 2.85" stroke-dashoffset="3.20"/>
<line x1="843.5" y1="1715.7" x2="843.5" y2="2331.2" stroke="#9c9c9c" stroke-width="1.4" stroke-dasharray="2.3 2.85" stroke-dashoffset="3.20"/>
<line x1="1001.5" y1="1715.7" x2="1001.5" y2="2331.2" stroke="#9c9c9c" stroke-width="1.4" stroke-dasharray="2.3 2.85" stroke-dashoffset="3.20"/>
<line x1="1159.6" y1="1715.7" x2="1159.6" y2="2331.2" stroke="#9c9c9c" stroke-width="1.4" stroke-dasharray="2.3 2.85" stroke-dashoffset="3.20"/>
<line x1="1317.6" y1="1715.7" x2="1317.6" y2="2331.2" stroke="#9c9c9c" stroke-width="1.4" stroke-dasharray="2.3 2.85" stroke-dashoffset="3.20"/>
<path d="M215.7,2120.7 C216.3,2122.8 218.2,2129.1 219.5,2133.0 C220.8,2136.9 222.0,2142.8 223.3,2144.4 C224.6,2146.0 225.8,2143.4 227.1,2142.5 C228.3,2141.6 229.6,2137.8 230.8,2138.7 C232.1,2139.6 233.3,2143.9 234.6,2148.2 C235.9,2152.5 236.7,2161.8 238.4,2164.3 C240.2,2166.8 242.6,2162.7 245.1,2163.4 C247.6,2164.1 251.1,2168.2 253.6,2168.7 C256.1,2169.2 257.5,2166.1 260.2,2166.2 C262.9,2166.3 266.4,2169.9 269.7,2169.4 C273.0,2168.9 277.0,2163.8 280.1,2163.4 C283.2,2163.0 285.5,2167.4 288.6,2167.2 C291.8,2167.0 295.7,2163.8 299.0,2162.4 C302.3,2161.0 305.5,2160.0 308.5,2158.6 C311.5,2157.2 314.5,2154.6 317.0,2153.9 C319.5,2153.2 321.3,2154.7 323.7,2154.3 C326.1,2153.9 328.9,2152.6 331.3,2151.6 C333.7,2150.6 335.7,2148.4 337.9,2148.2 C340.1,2147.9 341.8,2150.6 344.5,2150.1 C347.2,2149.6 351.0,2146.0 354.0,2145.4 C357.0,2144.8 359.7,2146.8 362.5,2146.3 C365.3,2145.8 367.7,2143.4 371.0,2142.5 C374.3,2141.6 378.9,2140.1 382.4,2140.6 C385.9,2141.1 388.7,2144.9 391.9,2145.4 C395.1,2145.9 398.9,2144.4 401.4,2143.5 C403.9,2142.6 405.3,2140.8 407.0,2139.7 C408.7,2138.6 410.2,2136.7 411.8,2136.8 C413.4,2137.0 414.4,2137.6 416.5,2140.6 C418.6,2143.6 421.6,2151.6 424.1,2154.8 C426.6,2158.0 429.1,2159.6 431.7,2159.6 C434.3,2159.6 437.1,2158.0 439.5,2155.0 C441.9,2152.0 444.3,2147.2 446.4,2141.5 C448.5,2135.8 450.3,2128.3 452.2,2120.6 C454.1,2112.8 456.0,2101.8 457.5,2095.0 C459.0,2088.2 460.0,2085.8 461.0,2080.0 C462.0,2074.2 462.7,2066.8 463.7,2060.0 C464.7,2053.2 465.9,2047.2 466.8,2039.0 C467.7,2030.8 468.6,2020.3 469.3,2011.0 C470.1,2001.7 470.7,1992.3 471.3,1983.0 C471.9,1973.7 472.7,1963.0 473.2,1955.0 C473.7,1947.0 474.1,1941.8 474.5,1935.0 C474.9,1928.2 475.0,1922.2 475.5,1914.0 C476.0,1905.8 476.7,1894.2 477.3,1886.0 C477.9,1877.8 478.6,1870.5 479.3,1865.0 C480.1,1859.5 480.8,1853.2 481.8,1853.2 C482.8,1853.2 484.6,1859.5 485.4,1865.0 C486.2,1870.5 486.4,1877.8 486.8,1886.0 C487.2,1894.2 487.6,1903.3 488.0,1914.0 C488.4,1924.7 488.8,1938.5 489.3,1950.0 C489.8,1961.5 490.5,1972.8 491.1,1983.0 C491.8,1993.2 492.4,2001.7 493.2,2011.0 C493.9,2020.3 494.9,2030.8 495.6,2039.0 C496.4,2047.2 497.1,2053.2 497.7,2060.0 C498.3,2066.8 499.0,2073.3 499.5,2080.0 C500.0,2086.7 500.2,2090.7 500.8,2100.0 C501.4,2109.3 502.4,2125.0 503.3,2136.0 C504.2,2147.0 505.2,2156.0 506.2,2166.0 C507.2,2176.0 508.2,2186.9 509.2,2196.0 C510.2,2205.1 511.1,2215.4 512.1,2220.8 C513.1,2226.2 514.1,2227.9 515.1,2228.2 C516.1,2228.4 516.9,2226.5 518.0,2222.3 C519.1,2218.1 520.6,2207.2 521.7,2203.2 C522.8,2199.1 523.6,2198.0 524.6,2198.0 C525.6,2198.0 526.6,2201.5 527.6,2203.2 C528.6,2204.9 529.5,2208.8 530.5,2208.3 C531.5,2207.8 532.5,2204.8 533.5,2200.2 C534.5,2195.6 535.3,2186.3 536.4,2181.0 C537.5,2175.7 538.9,2168.7 540.1,2168.5 C541.3,2168.3 542.7,2173.8 543.8,2179.6 C544.9,2185.4 545.7,2196.1 546.7,2203.2 C547.7,2210.3 548.7,2217.8 549.7,2222.3 C550.7,2226.8 551.2,2230.3 552.6,2230.4 C554.0,2230.5 555.7,2225.8 557.8,2223.0 C559.9,2220.2 563.0,2217.1 565.2,2213.5 C567.4,2209.9 569.4,2205.9 571.0,2201.7 C572.6,2197.5 573.5,2194.8 574.7,2188.4 C575.9,2182.0 577.2,2171.2 578.4,2163.4 C579.6,2155.6 580.6,2147.5 582.1,2141.3 C583.6,2135.2 585.6,2127.2 587.3,2126.5 C589.0,2125.8 590.9,2131.9 592.4,2136.8 C593.9,2141.7 594.9,2149.4 596.1,2156.0 C597.3,2162.6 598.6,2171.2 599.8,2176.6 C601.0,2182.0 602.3,2185.8 603.5,2188.4 C604.7,2191.0 606.0,2192.3 607.2,2192.1 C608.4,2191.8 609.3,2190.0 610.8,2186.9 C612.3,2183.8 614.3,2179.8 616.0,2173.7 C617.7,2167.6 619.6,2157.5 621.2,2150.1 C622.8,2142.7 624.5,2136.7 625.6,2129.5 C626.7,2122.3 627.3,2114.6 628.0,2107.0 C628.7,2099.4 629.1,2093.0 629.8,2084.0 C630.5,2075.0 631.5,2064.1 632.4,2052.8 C633.3,2041.5 634.2,2028.5 635.0,2016.4 C635.8,2004.3 636.3,1991.3 637.0,1980.0 C637.7,1968.7 638.3,1958.3 639.1,1948.8 C639.9,1939.3 640.8,1929.7 641.7,1922.8 C642.6,1915.9 643.2,1912.0 644.3,1907.2 C645.4,1902.4 647.2,1894.2 648.5,1894.2 C649.8,1894.2 651.1,1901.6 652.1,1907.2 C653.1,1912.8 653.5,1920.2 654.2,1928.0 C654.9,1935.8 655.6,1944.5 656.3,1954.0 C657.0,1963.5 657.8,1974.8 658.4,1985.2 C659.0,1995.6 659.4,2006.0 659.9,2016.4 C660.4,2026.8 661.0,2037.2 661.5,2047.6 C662.0,2058.0 662.5,2069.2 663.0,2078.8 C663.5,2088.4 663.9,2097.3 664.3,2105.0 C664.7,2112.7 665.0,2117.2 665.5,2125.0 C666.0,2132.8 666.3,2142.3 667.0,2151.6 C667.7,2160.9 668.5,2171.9 669.5,2181.0 C670.5,2190.1 671.6,2199.5 672.7,2206.1 C673.9,2212.7 674.9,2216.4 676.4,2220.8 C677.9,2225.2 680.1,2229.9 681.6,2232.6 C683.1,2235.3 684.0,2234.4 685.3,2237.0 C686.6,2239.6 687.9,2243.2 689.3,2248.2 C690.7,2253.1 692.4,2260.0 693.9,2266.7 C695.4,2273.4 696.6,2282.9 698.5,2288.4 C700.4,2293.9 703.2,2299.1 705.5,2299.9 C707.8,2300.7 710.0,2297.5 712.4,2293.0 C714.8,2288.5 718.0,2278.3 720.1,2272.9 C722.2,2267.5 723.2,2265.2 724.8,2260.6 C726.3,2256.0 727.9,2248.8 729.4,2245.1 C730.9,2241.4 732.2,2239.0 734.0,2238.2 C735.8,2237.4 737.9,2241.9 740.2,2240.5 C742.5,2239.1 745.6,2232.8 747.9,2229.7 C750.2,2226.6 752.4,2225.3 754.1,2222.0 C755.8,2218.7 756.8,2214.0 758.0,2209.6 C759.2,2205.2 760.0,2198.8 761.1,2195.7 C762.2,2192.6 763.5,2190.8 764.6,2191.1 C765.8,2191.4 766.5,2194.6 768.0,2197.3 C769.5,2200.0 771.9,2206.8 773.4,2207.3 C774.9,2207.8 775.8,2205.4 777.3,2200.4 C778.8,2195.4 781.2,2183.4 782.7,2177.2 C784.2,2171.0 785.2,2166.4 786.5,2163.3 C787.8,2160.2 789.1,2158.4 790.4,2158.7 C791.7,2158.9 792.8,2161.2 794.2,2164.8 C795.6,2168.4 797.4,2175.4 798.9,2180.3 C800.4,2185.2 802.0,2191.1 803.5,2194.2 C805.0,2197.3 806.3,2199.1 808.1,2198.8 C809.9,2198.5 812.2,2195.4 814.3,2192.6 C816.4,2189.8 818.4,2185.7 820.5,2181.8 C822.6,2178.0 824.7,2173.1 826.7,2169.5 C828.8,2165.9 831.0,2162.9 832.8,2160.2 C834.6,2157.5 836.0,2153.8 837.5,2153.3 C839.0,2152.8 840.4,2155.1 842.1,2157.1 C843.8,2159.1 845.4,2163.7 847.5,2165.6 C849.6,2167.5 852.8,2168.8 854.5,2168.7 C856.2,2168.6 856.5,2168.5 857.6,2164.8 C858.8,2161.1 860.2,2152.0 861.4,2146.3 C862.5,2140.7 863.6,2134.0 864.5,2130.9 C865.4,2127.8 865.9,2127.4 866.8,2127.8 C867.7,2128.2 868.9,2131.1 869.9,2133.2 C870.9,2135.2 871.9,2139.3 873.0,2140.1 C874.1,2140.9 875.6,2136.8 876.8,2137.8 C877.9,2138.8 878.8,2141.4 879.9,2146.3 C881.0,2151.2 882.1,2158.6 883.2,2167.0 C884.3,2175.4 885.2,2188.6 886.4,2197.0 C887.6,2205.4 888.7,2216.1 890.2,2217.4 C891.7,2218.7 893.4,2209.7 895.2,2204.8 C897.0,2199.9 899.3,2189.1 901.1,2188.0 C902.9,2186.9 904.6,2194.3 906.1,2198.1 C907.6,2201.9 908.8,2210.1 910.3,2210.7 C911.8,2211.3 913.7,2205.8 915.4,2201.5 C917.1,2197.2 918.4,2188.5 920.4,2184.6 C922.4,2180.7 925.0,2181.6 927.2,2177.9 C929.5,2174.2 931.8,2166.9 933.9,2162.7 C936.0,2158.5 937.5,2152.9 939.8,2152.6 C942.0,2152.3 944.6,2158.7 947.4,2161.1 C950.2,2163.5 954.1,2167.2 956.6,2166.9 C959.1,2166.6 960.4,2163.2 962.5,2159.4 C964.6,2155.6 967.3,2149.5 969.3,2144.2 C971.3,2138.9 972.6,2131.5 974.3,2127.4 C976.0,2123.3 977.6,2120.8 979.4,2119.8 C981.2,2118.8 983.5,2122.5 985.3,2121.5 C987.1,2120.5 988.8,2120.8 990.3,2113.9 C991.8,2107.0 993.0,2089.0 994.5,2080.2 C996.0,2071.4 997.9,2061.9 999.4,2061.3 C1000.9,2060.7 1002.2,2069.6 1003.8,2076.8 C1005.4,2084.0 1007.0,2100.4 1008.8,2104.6 C1010.6,2108.8 1012.0,2103.4 1014.7,2102.1 C1017.4,2100.8 1021.7,2097.0 1024.8,2096.7 C1027.9,2096.4 1031.0,2098.4 1033.3,2100.4 C1035.5,2102.4 1036.7,2106.6 1038.3,2108.8 C1039.9,2111.1 1040.8,2114.3 1043.0,2113.9 C1045.2,2113.5 1048.6,2107.2 1051.8,2106.3 C1055.0,2105.5 1059.1,2107.4 1061.9,2108.8 C1064.7,2110.2 1066.2,2112.4 1068.6,2114.7 C1071.0,2116.9 1074.0,2119.1 1076.2,2122.3 C1078.5,2125.5 1079.7,2130.4 1082.1,2134.1 C1084.5,2137.8 1088.0,2144.2 1090.5,2144.2 C1093.0,2144.2 1095.0,2140.3 1097.3,2134.1 C1099.5,2127.9 1102.1,2112.8 1104.0,2107.2 C1105.9,2101.6 1107.1,2100.2 1108.9,2100.4 C1110.7,2100.6 1112.9,2106.0 1114.7,2108.4 C1116.5,2110.8 1118.1,2111.7 1120.0,2114.7 C1121.9,2117.7 1124.0,2125.0 1126.3,2126.3 C1128.6,2127.6 1131.8,2122.5 1133.7,2122.7 C1135.6,2122.9 1136.5,2123.8 1137.9,2127.4 C1139.3,2131.0 1140.5,2137.5 1142.1,2144.2 C1143.7,2150.9 1145.7,2161.8 1147.4,2167.4 C1149.2,2173.0 1150.8,2174.8 1152.6,2177.9 C1154.3,2181.1 1156.1,2184.1 1157.9,2186.3 C1159.7,2188.5 1161.3,2192.1 1163.2,2191.0 C1165.1,2189.9 1167.4,2183.4 1169.5,2180.0 C1171.6,2176.6 1173.3,2171.2 1175.8,2170.5 C1178.2,2169.8 1181.8,2175.5 1184.2,2175.8 C1186.7,2176.2 1188.2,2172.4 1190.5,2172.6 C1192.8,2172.8 1195.4,2176.8 1197.9,2176.8 C1200.4,2176.8 1202.7,2172.6 1205.3,2172.6 C1207.9,2172.6 1211.4,2177.7 1213.7,2176.8 C1216.0,2175.9 1217.2,2171.0 1218.9,2167.4 C1220.7,2163.8 1222.6,2155.5 1224.2,2155.2 C1225.8,2154.8 1226.8,2159.6 1228.4,2165.3 C1230.0,2171.0 1231.8,2185.1 1233.7,2189.5 C1235.6,2193.9 1238.2,2190.4 1240.0,2191.6 C1241.8,2192.8 1242.8,2194.9 1244.2,2196.8 C1245.6,2198.7 1246.3,2203.9 1248.4,2203.2 C1250.5,2202.5 1254.0,2192.8 1256.8,2192.6 C1259.6,2192.4 1262.8,2201.7 1265.3,2202.1 C1267.8,2202.5 1269.3,2195.6 1271.6,2195.2 C1273.9,2194.8 1276.6,2199.6 1278.9,2199.4 C1281.2,2199.2 1283.2,2194.7 1285.3,2194.3 C1287.4,2193.9 1289.5,2197.6 1291.6,2196.8 C1293.7,2196.0 1295.6,2190.5 1297.9,2189.5 C1300.2,2188.5 1303.2,2191.3 1305.3,2191.0 C1307.4,2190.7 1308.6,2188.3 1310.5,2187.4 C1312.4,2186.5 1314.9,2189.7 1316.8,2185.3 C1318.7,2180.9 1320.3,2169.7 1322.1,2161.1 C1323.9,2152.5 1325.9,2140.8 1327.4,2133.7 C1328.9,2126.6 1329.8,2119.2 1331.2,2118.5 C1332.6,2117.8 1334.3,2122.4 1335.8,2129.5 C1337.3,2136.6 1338.8,2155.3 1340.0,2161.1 C1341.2,2166.9 1341.6,2164.6 1343.2,2164.2 C1344.8,2163.8 1347.4,2162.2 1349.5,2158.9 C1351.6,2155.6 1353.7,2150.3 1355.8,2144.2 C1357.9,2138.1 1360.0,2124.7 1362.1,2122.1 C1364.2,2119.5 1366.3,2128.8 1368.4,2128.4 C1370.5,2128.1 1372.6,2121.1 1374.7,2120.0 C1376.8,2118.9 1379.0,2126.1 1381.1,2122.1 C1383.2,2118.1 1386.4,2100.2 1387.4,2095.8" fill="none" stroke="#000" stroke-width="3.4" stroke-linejoin="round" stroke-linecap="round"/>
<path d="M204.70,1704.20 H1394.00 L1398.50,1708.70 V2342.70 H204.70 Z M216.10,1715.70 V2331.20 H1386.80 V1715.70 Z" fill="#000" fill-rule="evenodd"/>
<line x1="211.4" y1="2340.7" x2="211.4" y2="2346.3" stroke="#000" stroke-width="2.5"/>
<line x1="369.4" y1="2340.7" x2="369.4" y2="2346.3" stroke="#000" stroke-width="2.5"/>
<line x1="527.5" y1="2340.7" x2="527.5" y2="2346.3" stroke="#000" stroke-width="2.5"/>
<line x1="685.5" y1="2340.7" x2="685.5" y2="2346.3" stroke="#000" stroke-width="2.5"/>
<line x1="843.5" y1="2340.7" x2="843.5" y2="2346.3" stroke="#000" stroke-width="2.5"/>
<line x1="1001.5" y1="2340.7" x2="1001.5" y2="2346.3" stroke="#000" stroke-width="2.5"/>
<line x1="1159.6" y1="2340.7" x2="1159.6" y2="2346.3" stroke="#000" stroke-width="2.5"/>
<line x1="1317.6" y1="2340.7" x2="1317.6" y2="2346.3" stroke="#000" stroke-width="2.5"/>
<line x1="198.9" y1="1798.9" x2="206.7" y2="1798.9" stroke="#000" stroke-width="2.5"/>
<line x1="198.9" y1="1976.8" x2="206.7" y2="1976.8" stroke="#000" stroke-width="2.5"/>
<line x1="198.9" y1="2154.9" x2="206.7" y2="2154.9" stroke="#000" stroke-width="2.5"/>
<line x1="198.9" y1="2333.5" x2="206.7" y2="2333.5" stroke="#000" stroke-width="2.5"/>
<g transform="translate(156.04,2395.00) scale(1.0000,1.0250)"><text x="0.00 29.03 58.06 87.09" y="0" font-size="52.2">2000</text></g>
<g transform="translate(301.84,2395.00) scale(1.0000,1.0250)"><text x="29.03 58.06 87.09" y="0" font-size="52.2">800</text><path d="M0.39,0 L0.241,0 L0.241,0.49 C0.19,0.447 0.13,0.428 0.065,0.415 L0.065,0.515 C0.155,0.545 0.235,0.615 0.272,0.70 L0.39,0.70 Z" transform="translate(0.00,0) scale(52.2,-52.2)"/></g>
<g transform="translate(461.84,2395.00) scale(1.0000,1.0250)"><text x="29.03 58.06 87.09" y="0" font-size="52.2">600</text><path d="M0.39,0 L0.241,0 L0.241,0.49 C0.19,0.447 0.13,0.428 0.065,0.415 L0.065,0.515 C0.155,0.545 0.235,0.615 0.272,0.70 L0.39,0.70 Z" transform="translate(0.00,0) scale(52.2,-52.2)"/></g>
<g transform="translate(621.84,2395.00) scale(1.0000,1.0250)"><text x="29.03 58.06 87.09" y="0" font-size="52.2">400</text><path d="M0.39,0 L0.241,0 L0.241,0.49 C0.19,0.447 0.13,0.428 0.065,0.415 L0.065,0.515 C0.155,0.545 0.235,0.615 0.272,0.70 L0.39,0.70 Z" transform="translate(0.00,0) scale(52.2,-52.2)"/></g>
<g transform="translate(781.84,2395.00) scale(1.0000,1.0250)"><text x="29.03 58.06 87.09" y="0" font-size="52.2">200</text><path d="M0.39,0 L0.241,0 L0.241,0.49 C0.19,0.447 0.13,0.428 0.065,0.415 L0.065,0.515 C0.155,0.545 0.235,0.615 0.272,0.70 L0.39,0.70 Z" transform="translate(0.00,0) scale(52.2,-52.2)"/></g>
<g transform="translate(941.84,2395.00) scale(1.0000,1.0250)"><text x="29.03 58.06 87.09" y="0" font-size="52.2">000</text><path d="M0.39,0 L0.241,0 L0.241,0.49 C0.19,0.447 0.13,0.428 0.065,0.415 L0.065,0.515 C0.155,0.545 0.235,0.615 0.272,0.70 L0.39,0.70 Z" transform="translate(0.00,0) scale(52.2,-52.2)"/></g>
<g transform="translate(1116.35,2395.00) scale(1.0000,1.0250)"><text x="0.00 29.03 58.06" y="0" font-size="52.2">800</text></g>
<g transform="translate(1276.35,2395.00) scale(1.0000,1.0250)"><text x="0.00 29.03 58.06" y="0" font-size="52.2">600</text></g>
<g transform="translate(120.03,1815.50) scale(1.0000,1.0250)"><text x="0.00 29.03 43.53" y="0" font-size="52.2">0.2</text></g>
<g transform="translate(120.03,1994.50) scale(1.0000,1.0250)"><text x="0.00 29.03" y="0" font-size="52.2">0.</text><path d="M0.39,0 L0.241,0 L0.241,0.49 C0.19,0.447 0.13,0.428 0.065,0.415 L0.065,0.515 C0.155,0.545 0.235,0.615 0.272,0.70 L0.39,0.70 Z" transform="translate(43.53,0) scale(52.2,-52.2)"/></g>
<g transform="translate(163.57,2171.70) scale(1.0000,1.0250)"><text x="0.00" y="0" font-size="52.2">0</text></g>
<g transform="translate(104.22,2347.20) scale(1.0000,1.0250)"><text x="0.00 15.82 44.85" y="0" font-size="52.2">-0.</text><path d="M0.39,0 L0.241,0 L0.241,0.49 C0.19,0.447 0.13,0.428 0.065,0.415 L0.065,0.515 C0.155,0.545 0.235,0.615 0.272,0.70 L0.39,0.70 Z" transform="translate(59.35,0) scale(52.2,-52.2)"/></g>
<g transform="translate(477.44,2476.20) scale(1.0000,1.0450)"><text x="0.00" y="0" font-size="65.1">W</text><g transform="scale(1,0.945)"><text x="61.44 97.65 133.86 170.06 209.83 249.59 307.48 347.24 383.45 408.78" y="0" font-size="65.1">avenumbers</text></g></g>
<g transform="translate(940.92,2475.18) scale(0.8872,0.9789)"><text x="0.00" y="0" font-size="65.1">(</text></g>
<g transform="translate(962.96,2476.20) scale(1.0000,1.0450)"><g transform="scale(1,0.945)"><text x="0.00 36.21" y="0" font-size="65.1">cm</text></g></g>
<g transform="translate(1061.81,2458.95) scale(1.0600,1.0469)"><text x="0.00" y="0" font-size="45.7">-</text></g>
<g transform="translate(1076.06,2458.80) scale(1.0234,1.0253)"><path d="M0.39,0 L0.241,0 L0.241,0.49 C0.19,0.447 0.13,0.428 0.065,0.415 L0.065,0.515 C0.155,0.545 0.235,0.615 0.272,0.70 L0.39,0.70 Z" transform="translate(0.00,0) scale(45.7,-45.7)"/></g>
<g transform="translate(1107.55,2475.13) scale(0.8545,0.9673)"><text x="0.00" y="0" font-size="65.1">)</text></g>
<g transform="translate(60.00,2298.37) rotate(-90) scale(1.0000,1.0400)"><text x="0.00 406.28 449.83 496.99" y="0" font-size="65.3">LPC4</text><g transform="scale(1,0.945)"><text x="39.89 79.78 116.09 155.98 174.12 214.01 253.90 308.36 348.25" y="0" font-size="65.3">oadingson</text></g></g>
<rect x="443.7" y="1803.5" width="69.1" height="26.4" fill="#fff"/>
<g transform="translate(443.19,1827.60) scale(1.0000,1.0200)"><text x="17.24 34.48 51.72" y="0" font-size="31.0">655</text><path d="M0.39,0 L0.241,0 L0.241,0.49 C0.19,0.447 0.13,0.428 0.065,0.415 L0.065,0.515 C0.155,0.545 0.235,0.615 0.272,0.70 L0.39,0.70 Z" transform="translate(0.00,0) scale(31.0,-31.0)"/></g>
<rect x="614.2" y="1840.4" width="68.7" height="26.4" fill="#fff"/>
<g transform="translate(613.69,1864.50) scale(1.0000,1.0200)"><text x="17.24 34.48 51.72" y="0" font-size="31.0">450</text><path d="M0.39,0 L0.241,0 L0.241,0.49 C0.19,0.447 0.13,0.428 0.065,0.415 L0.065,0.515 C0.155,0.545 0.235,0.615 0.272,0.70 L0.39,0.70 Z" transform="translate(0.00,0) scale(31.0,-31.0)"/></g>
</svg>
</body></html>
